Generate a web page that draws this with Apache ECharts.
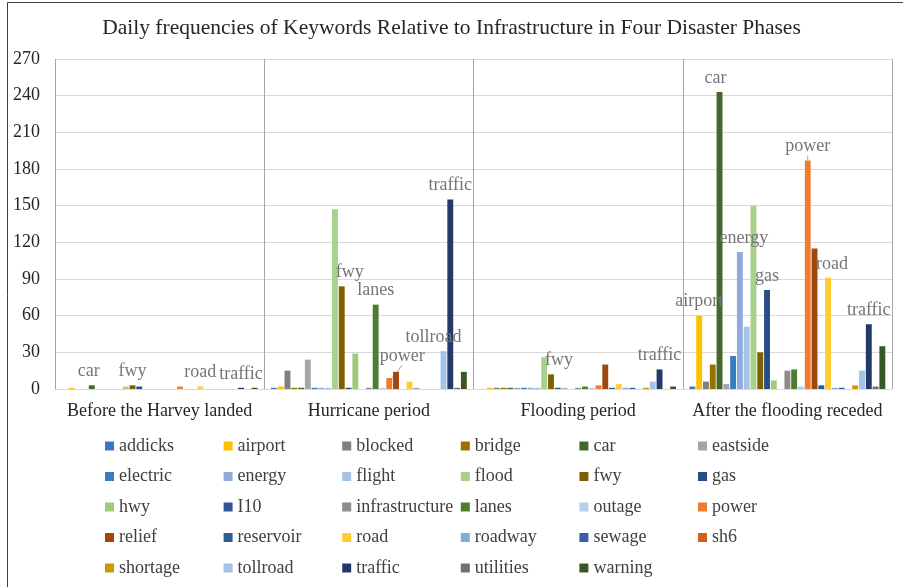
<!DOCTYPE html>
<html>
<head>
<meta charset="utf-8">
<script src="https://cdn.jsdelivr.net/npm/echarts@6/dist/echarts.min.js"></script>
<style>
  html, body { margin: 0; padding: 0; background: #fff; }
  #chart { width: 903px; height: 587px; }
</style>
</head>
<body>
<div id="chart"></div>
<script>
// Disaster phases along the category axis
const phases = ['Before the Harvey landed', 'Hurricane period', 'Flooding period', 'After the flooding receded'];

// Infrastructure keywords (one bar series each)
const keywords = ['addicks', 'airport', 'blocked', 'bridge', 'car', 'eastside',
  'electric', 'energy', 'flight', 'flood', 'fwy', 'gas',
  'hwy', 'I10', 'infrastructure', 'lanes', 'outage', 'power',
  'relief', 'reservoir', 'road', 'roadway', 'sewage', 'sh6',
  'shortage', 'tollroad', 'traffic', 'utilities', 'warning'];

// Daily keyword frequencies per phase, in keyword order
const beforeLanding = [0, 1, 0, 0, 3, 0, 0, 0, 0, 2, 3, 2, 0, 0, 0, 0, 0, 2, 0, 0, 2, 0, 0, 0, 0, 0, 1, 0, 1];
const hurricane     = [1, 2, 15, 1, 1, 24, 1, 1, 1, 147, 84, 1, 29, 0, 1, 69, 1, 9, 14, 0, 6, 1, 0, 0, 0, 31, 155, 1, 14];
const flooding      = [0, 1, 1, 1, 1, 1, 1, 1, 1, 26, 12, 1, 1, 0, 1, 2, 1, 3, 20, 1, 4, 1, 1, 0, 1, 6, 16, 0, 2];
const afterRecede   = [2, 60, 6, 20, 243, 4, 27, 112, 51, 150, 30, 81, 7, 0, 15, 16, 2, 187, 115, 3, 91, 1, 1, 0, 3, 15, 53, 2, 35];

// Keywords whose bars carry a name label, per phase
const labelledBefore = ['car', 'fwy', 'road', 'traffic'];
const labelledHurricane = ['fwy', 'lanes', 'power', 'tollroad', 'traffic'];
const labelledFlooding = ['fwy', 'traffic'];
const labelledAfter = ['airport', 'car', 'energy', 'gas', 'power', 'road', 'traffic'];

// Y axis ticks
const yTicks = [0, 30, 60, 90, 120, 150, 180, 210, 240, 270];

const colors = ['#4472C4', '#FFC000', '#7F7F7F', '#997300', '#43682B', '#A5A5A5',
  '#3A7CC1', '#8FAADC', '#A4C3E6', '#A9D18E', '#7F6000', '#264E82',
  '#9DCB7D', '#2F5597', '#8C8C8C', '#4E7D32', '#B4CFEA', '#ED7D31',
  '#9E480E', '#2B5E99', '#FFCD33', '#7DAFDD', '#3A5BA8', '#D2601A',
  '#CC9900', '#A3C4E8', '#22396A', '#6E6E6E', '#385723'];

const phaseValues = [beforeLanding, hurricane, flooding, afterRecede];
const phaseLabels = [labelledBefore, labelledHurricane, labelledFlooding, labelledAfter];

// small horizontal nudges for a few name labels
const labelNudge = {
  '0:car': [-3, 0], '1:fwy': [8, 0], '1:tollroad': [-10, 0],
  '2:fwy': [8, 0], '3:car': [-4, 0], '3:road': [4, 0], '3:energy': [4, 0]
};

const serif = 'Liberation Serif';

const series = keywords.map(function (name, k) {
  const data = phaseValues.map(function (vals, p) {
    const item = { value: vals[k] };
    if (phaseLabels[p].indexOf(name) >= 0) {
      item.label = { show: true, offset: labelNudge[p + ':' + name] || [0, 0] };
    }
    return item;
  });
  const s = {
    name: name,
    type: 'bar',
    barGap: '15%',
    barCategoryGap: '6.4%',
    itemStyle: { color: colors[k] },
    label: {
      show: false,
      position: 'top',
      distance: 5,
      formatter: '{a}',
      fontFamily: serif,
      fontSize: 18,
      color: '#757575'
    },
    data: data
  };
  if (name === 'power') {
    s.labelLayout = function (params) {
      if (params.dataIndex === 1) return { dx: 13, dy: -8 };
      return {};
    };
    s.labelLine = { show: true, length2: 0, lineStyle: { color: '#A6A6A6', width: 1 } };
  }
  return s;
});

// legend laid out as a 6-column grid: one vertical legend per column
const legends = [];
for (let c = 0; c < 6; c++) {
  const col = keywords.filter(function (_, i) { return i % 6 === c; });
  legends.push({
    orient: 'vertical',
    left: 105 + 118.6 * c,
    top: 436,
    padding: 0,
    itemGap: 10.5,
    itemWidth: 9,
    itemHeight: 9,
    icon: 'rect',
    data: col,
    textStyle: { fontFamily: serif, fontSize: 18, color: '#404040', lineHeight: 20 }
  });
}

const chart = echarts.init(document.getElementById('chart'), null, { renderer: 'canvas' });
chart.setOption({
  animation: false,
  backgroundColor: '#fff',
  title: {
    text: 'Daily frequencies of Keywords Relative to Infrastructure in Four Disaster Phases',
    left: 'center',
    top: 17,
    padding: 0,
    textStyle: { fontFamily: serif, fontSize: 21.5, fontWeight: 'normal', color: '#262626' }
  },
  graphic: [{
    type: 'rect',
    shape: { x: 7.5, y: 2.5, width: 1000, height: 1000 },
    style: { fill: 'none', stroke: '#404040', lineWidth: 1 },
    silent: true
  }],
  legend: legends,
  grid: { left: 55, right: 11, top: 59, bottom: 198, containLabel: false },
  xAxis: {
    type: 'category',
    data: phases,
    axisLine: { show: true, lineStyle: { color: '#D9D9D9' } },
    axisTick: { show: false },
    splitLine: { show: true, interval: 0, lineStyle: { color: '#A6A6A6', width: 1 } },
    axisLabel: { fontFamily: serif, fontSize: 18, color: '#262626', margin: 13, interval: 0 }
  },
  yAxis: {
    type: 'value',
    min: yTicks[0],
    max: yTicks[yTicks.length - 1],
    interval: yTicks[1] - yTicks[0],
    axisLine: { show: false },
    axisTick: { show: false },
    splitLine: { lineStyle: { color: '#D9D9D9', width: 1 } },
    axisLabel: { fontFamily: serif, fontSize: 18, color: '#262626', margin: 15 }
  },
  series: series
});
</script>
</body>
</html>
